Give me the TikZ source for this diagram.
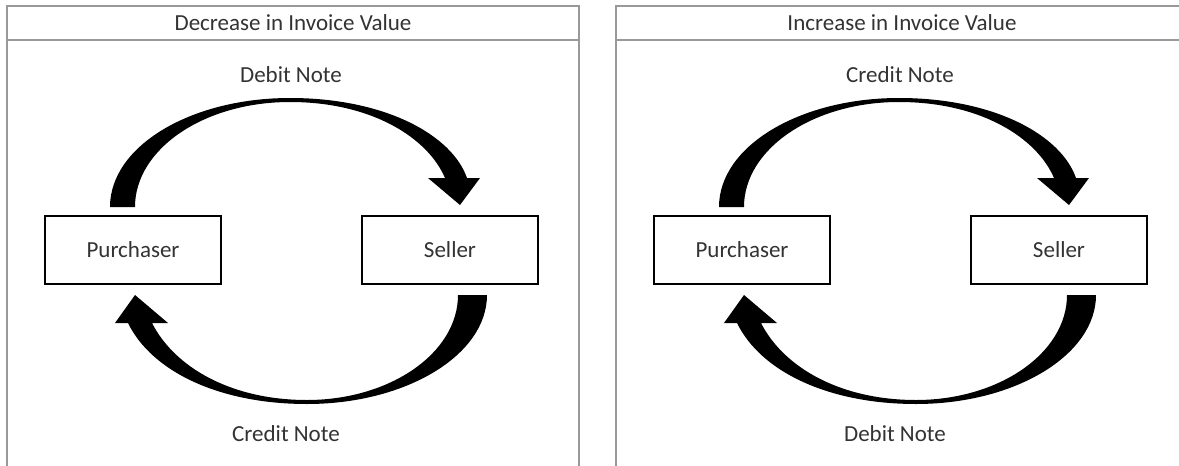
\documentclass[tikz,border=0pt]{standalone}
\usepackage{fontspec}
\setmainfont{Carlito}

\begin{document}
\begin{tikzpicture}
        [x=1pt,y=-1pt,
         every node/.style={font=\fontsize{23}{27}\selectfont,text=black!80},
         box/.style={draw=black,line width=2pt,minimum width=176pt,minimum height=68pt,inner sep=0pt},
         frame/.style={draw=black!40,line width=1.5pt},
         curvearrow/.style={fill=black}]
        \useasboundingbox (0,0) rectangle (1179,466);
        \fill[white] (0,0) rectangle (1179,466);
        \clip (0,0) rectangle (1179,466);

        % left panel
        \draw[frame] (7,480) -- (7,6) -- (579,6) -- (579,480);
        \draw[frame] (7,40) -- (579,40);
        \node (t1) at (293,23) {Decrease in Invoice Value};
        \node[box] (p1) at (133,250) {Purchaser};
        \node[box] (s1) at (450,250) {Seller};
        \node (n1) at (291,75) {Debit Note};
        \node (m1) at (286,434) {Credit Note};
        % over the top
        \fill[curvearrow] (110,207) .. controls (110,146) and (191,98) .. (290,98)
              .. controls (385,98) and (452,135) .. (467,178) -- (480,178) -- (460,205) -- (428,178) -- (445,178)
              .. controls (428,138) and (372,102) .. (290,102)
              .. controls (204,102) and (135,149) .. (135,207) -- cycle;
        % round the bottom
        \fill[curvearrow] (487,295) .. controls (487,355) and (406,404) .. (307,404)
              .. controls (220,404) and (152,372) .. (128,323) -- (115,323) -- (135,295) -- (168,323) -- (152,323)
              .. controls (175,368) and (232,400) .. (307,400)
              .. controls (390,400) and (458,353) .. (458,295) -- cycle;

        % right panel
        \begin{scope}[xshift=609pt]
        \draw[frame] (7,480) -- (7,6) -- (579,6) -- (579,480);
        \draw[frame] (7,40) -- (579,40);
        \node (t2) at (293,23) {Increase in Invoice Value};
        \node[box] (p2) at (133,250) {Purchaser};
        \node[box] (s2) at (450,250) {Seller};
        \node (n2) at (291,75) {Credit Note};
        \node (m2) at (286,434) {Debit Note};
        % over the top
        \fill[curvearrow] (110,207) .. controls (110,146) and (191,98) .. (290,98)
              .. controls (385,98) and (452,135) .. (467,178) -- (480,178) -- (460,205) -- (428,178) -- (445,178)
              .. controls (428,138) and (372,102) .. (290,102)
              .. controls (204,102) and (135,149) .. (135,207) -- cycle;
        % round the bottom
        \fill[curvearrow] (487,295) .. controls (487,355) and (406,404) .. (307,404)
              .. controls (220,404) and (152,372) .. (128,323) -- (115,323) -- (135,295) -- (168,323) -- (152,323)
              .. controls (175,368) and (232,400) .. (307,400)
              .. controls (390,400) and (458,353) .. (458,295) -- cycle;
        \end{scope}
\end{tikzpicture}
\end{document}
